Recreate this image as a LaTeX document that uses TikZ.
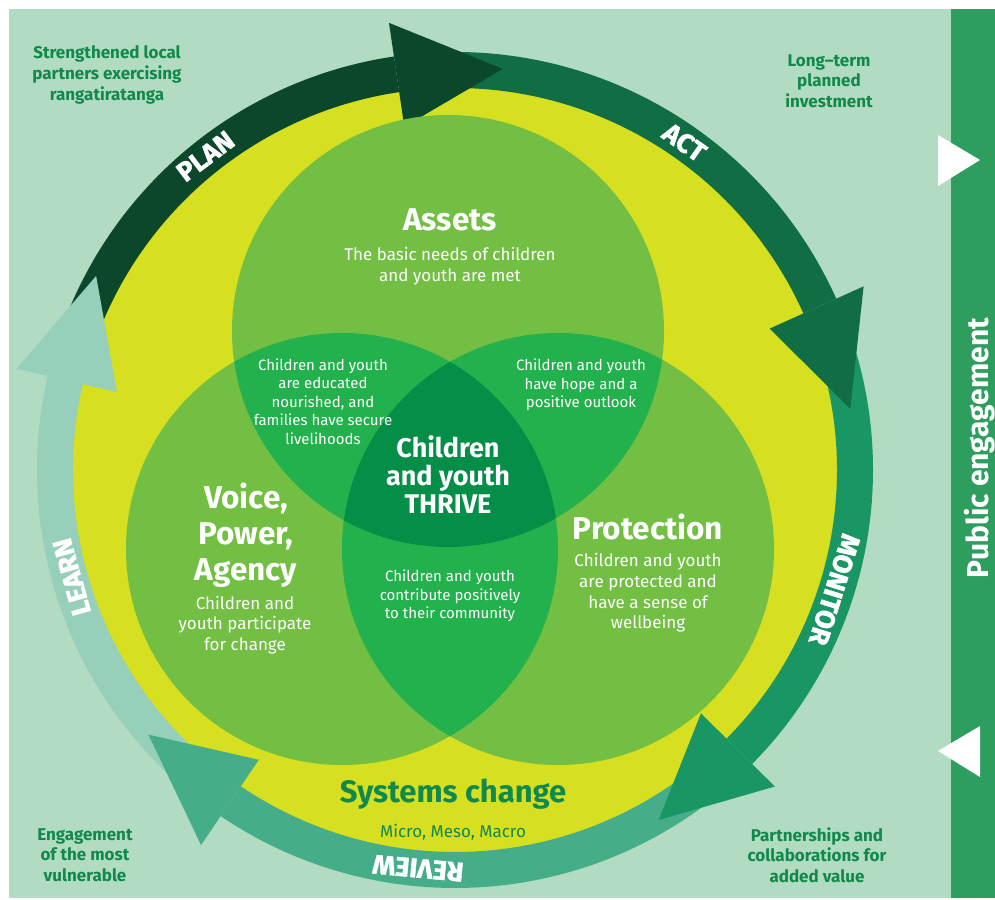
\documentclass[tikz,border=0pt]{standalone}
\usepackage{fontspec}
\setmainfont{Fira Sans}
\newfontfamily\ringfont{Fira Sans}[BoldFeatures={FakeBold=1.6}]
\definecolor{bgl}{HTML}{B2DCC1}
\definecolor{barc}{HTML}{2E9E5E}
\definecolor{yel}{HTML}{D6DF20}
\definecolor{cplan}{HTML}{0B472B}
\definecolor{cact}{HTML}{116D44}
\definecolor{cmon}{HTML}{1A9665}
\definecolor{crev}{HTML}{45AD88}
\definecolor{clearn}{HTML}{96CFBA}
\definecolor{vone}{HTML}{72BF44}
\definecolor{vtwo}{HTML}{22B14C}
\definecolor{vthree}{HTML}{048E47}
\definecolor{dgreen}{HTML}{11894D}
\tikzset{
  body/.style={text=white, align=center, inner sep=0pt, font=\fontsize{17}{20.7}\selectfont},
  smalltxt/.style={text=white, align=center, inner sep=0pt, font=\fontsize{15}{18.5}\selectfont},
  titletxt/.style={text=white, align=center, inner sep=0pt, font=\bfseries\fontsize{31.5}{36}\selectfont},
  corner/.style={text=dgreen, align=center, inner sep=0pt, font=\bfseries\fontsize{17}{20.7}\selectfont},
  ringtxt/.style={text=white, inner sep=0pt, font=\ringfont\bfseries\fontsize{27}{27}\selectfont},
}
\begin{document}
\begin{tikzpicture}[x=1pt,y=1pt]
\useasboundingbox (0,0) rectangle (995,899);
\fill[white] (0,0) rectangle (995,899);
\fill[bgl] (9,1) rectangle (951,890);
\fill[barc] (951,1) rectangle (995,890);
% white triangles on the bar
\fill[white] (938,764) -- (980,739) -- (938,713) -- cycle;
\fill[white] (980,173) -- (938,148) -- (980,122) -- cycle;
\node[text=white, font=\bfseries\fontsize{30}{30}\selectfont, rotate=90, anchor=base, inner sep=0pt] (pub) at (988,451) {Public engagement};

% ring
\begin{scope}[shift={(455,429)}]
  \coordinate (C) at (0,0);
  \fill[yel] (C) circle (384);
  % bands
  \fill[cplan] (162:382) arc[start angle=162, end angle=98.4, radius=382] -- (98.4:418) arc[start angle=98.4, end angle=162, radius=418] -- cycle;
  \fill[cact] (95:382) arc[start angle=95, end angle=24.2, radius=382] -- (24.2:418) arc[start angle=24.2, end angle=95, radius=418] -- cycle;
  \fill[cmon] (21:382) arc[start angle=21, end angle=-44.7, radius=382] -- (-44.7:418) arc[start angle=-44.7, end angle=21, radius=418] -- cycle;
  \fill[crev] (-49:382) arc[start angle=-49, end angle=-124.1, radius=382] -- (-124.1:418) arc[start angle=-124.1, end angle=-49, radius=418] -- cycle;
  \fill[clearn] (233:382) arc[start angle=233, end angle=167, radius=382] -- (167:418) arc[start angle=167, end angle=233, radius=418] -- cycle;
  % heads
  \fill[cplan] (98.4:347) -- (83.2:404) -- (98.4:452) -- cycle;
  \fill[cact] (24.2:345) -- (8.8:400) -- (24.2:448) -- cycle;
  \fill[cmon] (-44.7:346) -- (-59.8:405) -- (-44.7:450) -- cycle;
  \fill[crev] (-124.1:350) -- (-139.2:405) -- (-124.1:453) -- cycle;
  \fill[clearn] (167:347) -- (151.6:408) -- (167:450) -- cycle;
  % ring labels
  \node[ringtxt, rotate=37] (plan) at (128.5:401) {PLAN};
  \node[ringtxt, rotate=-35] (act) at (55:400) {ACT};
  \node[ringtxt, rotate=-107.5] (mon) at (-17.5:398) {MONITOR};
  \node[ringtxt, rotate=174.7] (rev) at (264.7:400) {REVIEW};
  \node[ringtxt, rotate=105.6] (learn) at (195.6:398) {LEARN};
\end{scope}

% Venn
\coordinate (A) at (448,568);
\coordinate (V) at (342,350);
\coordinate (P) at (558,350);
\fill[vone] (A) circle (216);
\fill[vone] (V) circle (216);
\fill[vone] (P) circle (216);
\begin{scope}
  \clip (A) circle (216);
  \fill[vtwo] (V) circle (216);
  \fill[vtwo] (P) circle (216);
\end{scope}
\begin{scope}
  \clip (V) circle (216);
  \fill[vtwo] (P) circle (216);
\end{scope}
\begin{scope}
  \clip (A) circle (216);
  \clip (V) circle (216);
  \fill[vthree] (P) circle (216);
\end{scope}

% corner texts
\node[corner] (c1) at (107,824) {Strengthened local\\partners exercising\\rangatiratanga};
\node[corner] (c2) at (829,818) {Long–term\\planned\\investment};
\node[corner] (c3) at (85,44) {Engagement\\of the most\\vulnerable};
\node[corner] (c4) at (817,44) {Partnerships and\\collaborations for\\added value};

% Venn texts
\node[titletxt] (assets) at (450,679.5) {Assets};
\node[body] (basic) at (450,633) {The basic needs of children\\and youth are met};
\node[smalltxt] (edu) at (323,497.5) {Children and youth\\are educated\\nourished, and\\families have secure\\livelihoods};
\node[smalltxt] (hope) at (581,514) {Children and youth\\have hope and a\\positive outlook};
\node[text=white, align=center, inner sep=0pt, font=\bfseries\fontsize{27}{28}\selectfont] (thrive) at (448,424) {Children\\and youth\\THRIVE};
\node[smalltxt] (contrib) at (450,303) {Children and youth\\contribute positively\\to their community};
\node[titletxt] (prot) at (648,372) {Protection};
\node[body] (protd) at (648,306) {Children and youth\\are protected and\\have a sense of\\wellbeing};
\node[titletxt] (voice) at (246,364) {Voice,\\Power,\\Agency};
\node[body] (part) at (245,274) {Children and\\youth participate\\for change};
\node[text=dgreen, inner sep=0pt, anchor=base, font=\bfseries\fontsize{31}{31}\selectfont] (sys) at (453,96) {Systems change};
\node[text=dgreen, inner sep=0pt, anchor=base, font=\fontsize{17}{17}\selectfont] (micro) at (453,62) {Micro, Meso, Macro};
\end{tikzpicture}
\end{document}
